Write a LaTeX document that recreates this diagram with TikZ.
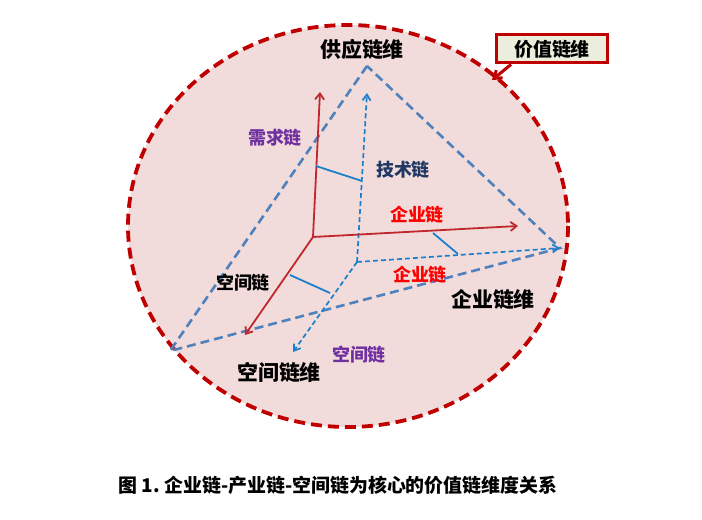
\documentclass[tikz,border=0pt]{standalone}
\usepackage{fontspec}
\newfontfamily\cjk{Noto Sans CJK SC}
\usetikzlibrary{arrows.meta}
\definecolor{valuered}{HTML}{C00000}
\definecolor{pinkfill}{HTML}{F2DCDB}
\definecolor{boxfill}{HTML}{ECEEDD}
\definecolor{dimblue}{HTML}{4F81BD}
\definecolor{chainblue}{HTML}{1A80CC}
\definecolor{axisred}{HTML}{C0282D}
\definecolor{demandpurple}{HTML}{7030A0}
\definecolor{technavy}{HTML}{1F3864}

\begin{document}
\begin{tikzpicture}[x=1bp,y=-1bp,
	dimline/.style={dash pattern=on 9bp off 5bp, line width=2.6bp, draw=dimblue},
	chainline/.style={dash pattern=on 5bp off 3bp, line width=1.7bp, draw=chainblue, -{Straight Barb[length=6bp,width=8bp]}},
	axisline/.style={line width=1.8bp, draw=axisred, -{Straight Barb[length=6bp,width=9bp]}},
	linkline/.style={line width=1.8bp, draw=chainblue},
	dimlabel/.style={font=\cjk\bfseries\fontsize{21}{24}\selectfont, text=black, inner sep=1bp},
	chainlabel/.style={font=\cjk\bfseries\fontsize{18}{21}\selectfont, inner sep=1bp}]
	\useasboundingbox (0,0) rectangle (702,520);
	% value chain dimension
	\draw [fill=pinkfill, draw=valuered, line width=3.8bp, dash pattern=on 11bp off 6bp] (348,226) ellipse [x radius=220, y radius=201];
	\node [draw=valuered, line width=3bp, fill=boxfill, minimum width=111bp, minimum height=28bp, inner sep=2bp, font=\cjk\bfseries\fontsize{19}{22}\selectfont] (valuebox) at (552,49) {价值链维};
	\coordinate (pointer) at (492,80);
	\draw [valuered, line width=3bp, -{Straight Barb[length=7bp,width=10bp]}] ([xshift=16bp]valuebox.south west) -- (pointer);
	% pyramid of dimensions
	\coordinate (apex) at (367,66);
	\coordinate (leftv) at (170,351);
	\coordinate (rightv) at (560,248);
	\draw [dimline] (apex) -- (leftv) -- (rightv) -- cycle;
	% inner chain
	\coordinate (inner) at (357,262);
	\coordinate (techtip) at (367,93);
	\coordinate (spacetip) at (293,352);
	\draw [chainline] (inner) -- (techtip);
	\draw [chainline] (inner) -- (rightv);
	\draw [chainline] (inner) -- (spacetip);
	% red axes
	\coordinate (origin) at (313,237);
	\coordinate (demandtip) at (320,92);
	\coordinate (firmtip) at (518,226);
	\coordinate (spaceaxis) at (245,335);
	\draw [axisline] (origin) -- (demandtip);
	\draw [axisline] (origin) -- (firmtip);
	\draw [axisline] (origin) -- (spaceaxis);
	% links between axes
	\coordinate (linka) at (316,166);
	\coordinate (linkb) at (362,181);
	\coordinate (linkc) at (433,233);
	\coordinate (linkd) at (458,254);
	\coordinate (linke) at (290,275);
	\coordinate (linkf) at (330,293);
	\draw [linkline] (linka) -- (linkb);
	\draw [linkline] (linkc) -- (linkd);
	\draw [linkline] (linke) -- (linkf);
	% labels
	\node [dimlabel] (supplylabel) at (362,50) {供应链维};
	\node [dimlabel] (firmdimlabel) at (493,299) {企业链维};
	\node [dimlabel] (spacedimlabel) at (279,372) {空间链维};
	\node [chainlabel, text=demandpurple] (demandlabel) at (275,138) {需求链};
	\node [chainlabel, text=technavy] (techlabel) at (403,170) {技术链};
	\node [chainlabel, text=red] (firmlabel) at (417,215) {企业链};
	\node [chainlabel, text=red] (firmlabelb) at (420,275) {企业链};
	\node [chainlabel, text=black] (spacelabel) at (243,283) {空间链};
	\node [chainlabel, text=demandpurple] (spacelabelb) at (359,355) {空间链};
	\node [font=\cjk\bfseries\fontsize{19}{22}\selectfont] (caption) at (338,485) {图 1.\ 企业链-产业链-空间链为核心的价值链维度关系};
\end{tikzpicture}
\end{document}
